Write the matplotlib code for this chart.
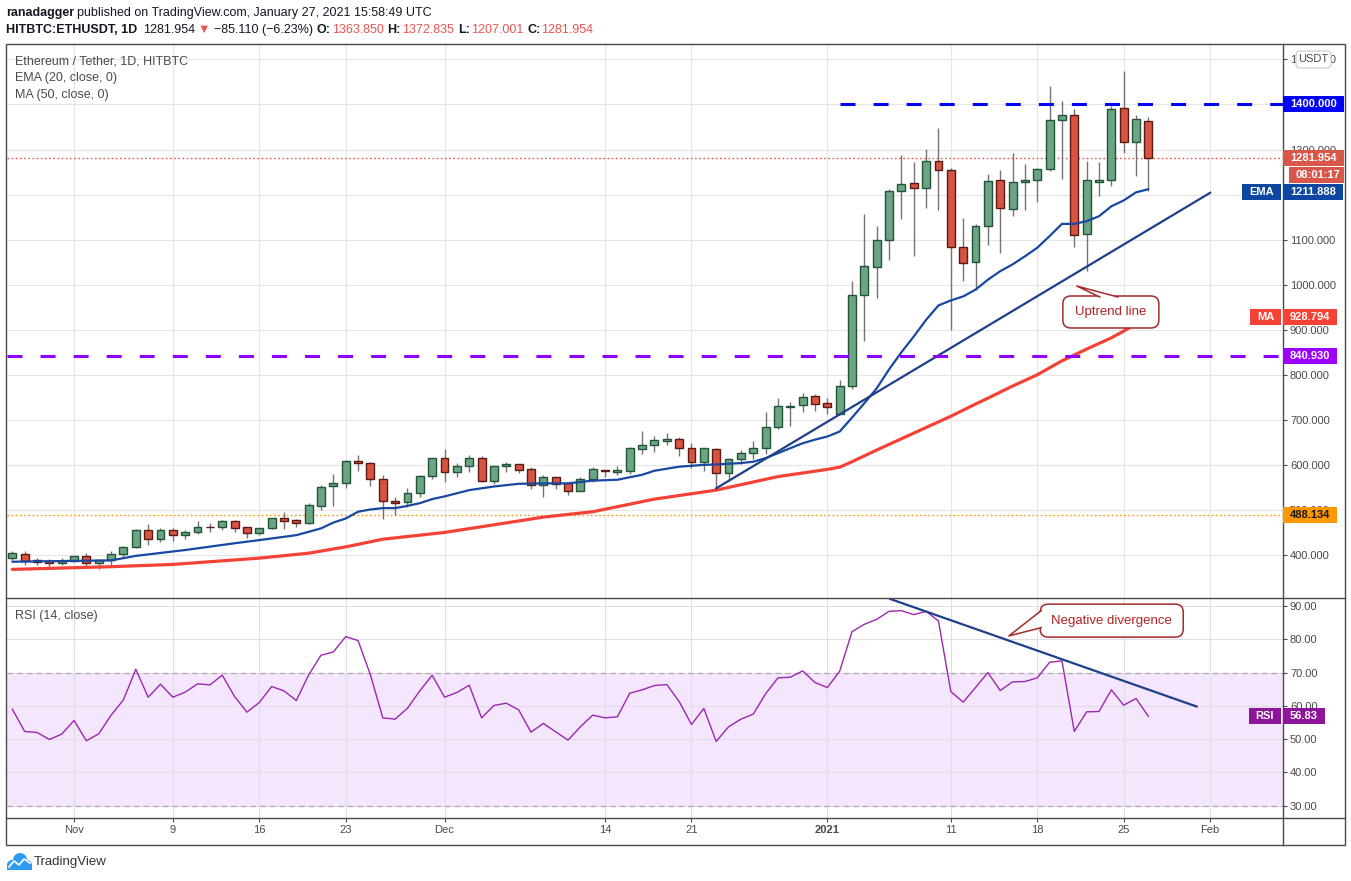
import matplotlib
matplotlib.use("Agg")

import matplotlib.pyplot as plt
import matplotlib.dates as mdates
from matplotlib.patches import FancyBboxPatch, Rectangle, Polygon, Circle
from matplotlib.ticker import FormatStrFormatter, FuncFormatter
import numpy as np
import pandas as pd

plt.rcParams["font.family"] = ["Liberation Sans", "DejaVu Sans"]
plt.rcParams["lines.scale_dashes"] = False

# ── Daily candles, ETH/USDT (HitBTC), 27 Oct 2020 .. 27 Jan 2021 ──────────────
opens = [392.6, 401.5, 388.0, 386.0, 381.5, 386.0, 397.0, 381.5, 388.0, 401.5,
         417.0, 455.6, 434.8, 455.6, 443.7, 450.4, 462.0, 461.5, 474.8, 461.5,
         448.2, 459.3, 481.5, 477.0, 470.4, 508.0, 552.6, 559.2, 608.1, 603.7,
         568.1, 520.0, 517.0, 537.0, 574.8, 614.8, 583.7, 597.0, 614.8, 565.2,
         597.0, 601.5, 590.4, 554.8, 572.6, 559.2, 542.9, 568.1, 589.6, 585.2,
         587.4, 636.3, 643.7, 654.0, 657.0, 637.0, 607.4, 634.8, 583.0, 612.6,
         625.9, 637.0, 683.0, 727.4, 731.9, 752.6, 737.0, 714.0, 775.0, 977.0,
         1039.3, 1099.3, 1208.2, 1226.0, 1214.8, 1274.8, 1254.9, 1083.7, 1050.4, 1130.4,
         1232.6, 1168.2, 1228.2, 1232.6, 1257.0, 1366.0, 1377.0, 1112.6, 1228.2, 1232.6,
         1392.6, 1317.0, 1363.85]
highs = [408.9, 408.9, 392.6, 390.4, 393.4, 398.5, 404.5, 391.0, 408.9, 420.0,
         457.8, 468.9, 460.0, 460.0, 455.6, 475.6, 471.9, 477.8, 477.8, 461.5,
         460.8, 483.0, 495.6, 479.3, 514.8, 555.6, 580.0, 611.0, 622.2, 605.9,
         577.0, 529.6, 548.0, 577.8, 614.8, 635.6, 605.2, 622.2, 620.0, 597.0,
         607.4, 601.5, 594.8, 577.8, 574.1, 559.2, 572.6, 596.3, 589.6, 597.8,
         640.7, 675.5, 664.4, 670.4, 662.2, 648.1, 637.0, 637.0, 614.8, 633.3,
         653.3, 716.3, 748.9, 740.0, 758.5, 757.0, 748.1, 788.9, 1009.0, 1157.8,
         1131.0, 1213.4, 1289.0, 1273.4, 1302.3, 1348.9, 1259.3, 1148.9, 1135.6, 1246.7,
         1255.6, 1293.0, 1268.9, 1259.3, 1440.7, 1406.7, 1388.9, 1274.1, 1271.9, 1396.3,
         1474.0, 1377.8, 1372.835]
lows = [388.2, 378.6, 378.6, 371.9, 378.6, 385.0, 376.3, 369.7, 376.3, 394.0,
        414.9, 422.3, 429.7, 431.9, 436.3, 447.4, 450.4, 456.3, 451.9, 438.5,
        444.5, 457.8, 457.8, 463.0, 468.9, 500.8, 508.9, 549.6, 587.4, 554.0,
        480.7, 489.6, 507.4, 529.6, 569.6, 563.0, 574.0, 585.2, 563.0, 557.8,
        583.7, 583.0, 546.7, 529.6, 546.7, 534.1, 542.9, 563.0, 574.0, 577.8,
        580.0, 625.2, 628.0, 645.2, 620.7, 594.0, 587.4, 548.1, 565.2, 602.2,
        614.0, 623.7, 680.7, 687.4, 716.3, 720.0, 714.0, 712.0, 768.0, 874.1,
        969.7, 1054.1, 1145.2, 1063.0, 1169.7, 1165.2, 898.5, 1007.5, 987.4, 1087.4,
        1069.6, 1151.9, 1165.2, 1183.0, 1251.9, 1234.1, 1083.0, 1031.1, 1196.3, 1218.5,
        1291.9, 1242.3, 1207.001]
closes = [403.7, 387.4, 385.0, 381.5, 386.0, 397.0, 381.5, 388.0, 401.5, 417.1,
          455.6, 434.8, 455.6, 443.7, 450.4, 461.5, 461.0, 475.6, 459.3, 448.2,
          459.3, 481.5, 476.3, 470.4, 510.4, 551.9, 559.3, 608.1, 603.7, 568.1,
          519.2, 516.3, 537.0, 574.8, 614.8, 583.7, 597.0, 614.8, 565.2, 597.0,
          601.5, 589.6, 554.8, 572.6, 557.8, 542.9, 568.1, 590.4, 585.9, 588.1,
          637.0, 643.7, 654.8, 657.0, 637.0, 605.9, 637.0, 583.0, 612.6, 625.9,
          637.0, 683.7, 730.4, 730.4, 750.4, 734.8, 728.1, 774.8, 977.0, 1041.5,
          1099.3, 1208.2, 1223.7, 1214.8, 1274.8, 1254.9, 1083.7, 1048.2, 1130.4, 1230.4,
          1170.4, 1228.2, 1232.6, 1257.8, 1366.0, 1377.0, 1110.4, 1232.6, 1232.6, 1390.4,
          1317.0, 1368.1, 1281.954]

rsi = [59.0, 52.3, 52.0, 49.9, 51.5, 55.6, 49.5, 51.6, 57.2, 61.8,
       71.0, 62.6, 66.5, 62.6, 64.1, 66.6, 66.3, 69.2, 62.8, 58.1,
       61.0, 65.8, 64.5, 61.6, 69.3, 75.2, 76.2, 80.8, 79.6, 69.3,
       56.4, 56.0, 59.3, 64.5, 69.2, 62.6, 64.0, 66.2, 56.4, 60.1,
       60.8, 58.8, 52.1, 54.7, 52.2, 49.7, 53.7, 57.2, 56.4, 56.7,
       63.8, 64.8, 66.1, 66.4, 61.3, 54.4, 59.2, 49.3, 53.7, 56.0,
       57.5, 63.6, 68.4, 68.6, 70.5, 67.0, 65.5, 70.4, 82.3, 84.5,
       86.0, 88.4, 88.6, 87.4, 88.4, 85.5, 64.3, 61.1, 65.5, 70.0,
       64.6, 67.2, 67.3, 68.4, 73.1, 73.5, 52.3, 58.2, 58.3, 64.8,
       60.2, 62.2, 56.83]

# EMA(20) and MA(50) (day offset from 27 Oct, value)
ema_day = [0, 8, 10, 14, 18, 20, 23, 25, 26, 27, 28, 29, 30, 31, 32, 33, 34, 35, 37, 39,
           41, 43, 45, 47, 49, 51, 52, 54, 56, 57, 59, 60, 61, 62, 63, 64, 65, 66, 67, 68,
           69, 70, 71, 72, 73, 74, 75, 76, 77, 78, 79, 80, 81, 82, 83, 84, 85, 86, 87, 88,
           89, 90, 91, 92]
ema_val = [385, 388, 398, 411, 426, 433, 444, 459, 472, 481, 496, 501, 504, 504, 509, 515, 524, 530, 544, 552,
           558, 559, 559, 565, 567, 578, 587, 596, 600, 601, 604, 607, 615, 626, 637, 648, 656, 663, 674, 705,
           737, 770, 812, 850, 885, 922, 954, 965, 974, 989, 1011, 1030, 1045, 1063, 1082, 1108, 1135, 1135, 1141, 1152,
           1174, 1187, 1205, 1212]
ma_day = [0, 8, 13, 20, 24, 27, 30, 35, 39, 43, 47, 52, 57, 62, 66, 67, 68, 69, 70, 72,
          74, 76, 78, 79, 81, 83, 85, 87, 89, 90, 92]
ma_val = [368, 374, 379, 393, 404, 418, 435, 450, 467, 484, 496, 524, 544, 574, 590, 595, 607, 620, 633, 658,
          683, 708, 735, 748, 775, 800, 831, 857, 882, 897, 929]

# hand-drawn lines
uptrend_day = [57, 97]
uptrend_val = [548, 1204]
rsi_trend_day = [71.1, 95.9]
rsi_trend_val = [92.1, 59.8]
resistance = 1400.0
resistance_from = 67
support = 840.930
level_488 = 488.134
last_close = 1281.954
last_ema = 1211.888
last_ma = 928.794
last_rsi = 56.83
countdown = "08:01:17"

tick_dates = ["2020-11-01", "2020-11-09", "2020-11-16", "2020-11-23", "2020-12-01", "2020-12-14",
              "2020-12-21", "2021-01-01", "2021-01-11", "2021-01-18", "2021-01-25", "2021-02-01"]
tick_labels = ["Nov", "9", "16", "23", "Dec", "14", "21", "2021", "11", "18", "25", "Feb"]
price_ticks = [400, 500, 600, 700, 800, 900, 1000, 1100, 1200, 1300, 1400, 1500]
hidden_price_ticks = [1200]          # fully covered by the EMA tag on the original
rsi_ticks = [30, 40, 50, 60, 70, 80, 90]

# ── Colours ───────────────────────────────────────────────────────────────────
UP, UP_EDGE = "#6BA583", "#225437"
DN, DN_EDGE = "#D75442", "#5B1A13"
WICK = "#737375"
EMA_C = "#1848A0"
MA_C = "#F44336"
TREND_C = "#1E3F8A"
RSI_C = "#9C27B0"
GRID = "#E6E6E6"
TXT = "#4A4A4A"
NOTE = "#A52A2A"

W, H = 1351, 881


def px_rect(l, t, r, b):
    return [l / W, 1 - b / H, (r - l) / W, (b - t) / H]


fig = plt.figure(figsize=(W / 100, H / 100), dpi=100)
fig.patch.set_facecolor("white")

ax_p = fig.add_axes(px_rect(7, 44, 1283, 598))
ax_r = fig.add_axes(px_rect(7, 598, 1283, 818), sharex=ax_p)

dates = pd.date_range("2020-10-27", periods=len(closes), freq="D")
x = mdates.date2num(dates)
x0 = x[0]
o, h, l, c = (np.array(a) for a in (opens, highs, lows, closes))

# ── Price pane ────────────────────────────────────────────────────────────────
ax_p.set_xlim(x0 - 0.43, x0 + 102.9)
ax_p.set_ylim(304.5, 1534.3)

up = c >= o
lo = np.minimum(o, c)
bh = np.maximum(np.abs(c - o), 1.0)
ax_p.vlines(x, l, h, color=WICK, lw=1, zorder=2)
ax_p.bar(x[up], bh[up], bottom=lo[up], width=0.64, color=UP, edgecolor=UP_EDGE, lw=1, zorder=3)
ax_p.bar(x[~up], bh[~up], bottom=lo[~up], width=0.64, color=DN, edgecolor=DN_EDGE, lw=1, zorder=3)

ax_p.plot(x0 + np.array(ma_day), ma_val, color=MA_C, lw=2.3, zorder=4, solid_capstyle="round")
ax_p.plot(x0 + np.array(ema_day), ema_val, color=EMA_C, lw=1.6, zorder=4, solid_capstyle="round")
ax_p.plot(x0 + np.array(uptrend_day), uptrend_val, color=TREND_C, lw=1.6, zorder=5)

xmax = ax_p.get_xlim()[1]
ax_p.plot([x0 + resistance_from, xmax], [resistance] * 2, color="#0000FF", lw=2.2,
          dashes=(10.8, 13), solid_capstyle="butt", zorder=5)
ax_p.axhline(support, color="#8F00FF", lw=2.2, dashes=(10.8, 13), zorder=5)
ax_p.axhline(level_488, color="#FF9800", lw=1, dashes=(1.2, 1.8), zorder=1.5)
ax_p.axhline(last_close, color="#EF5350", lw=1, dashes=(1.2, 1.8), zorder=1.5)

ax_p.yaxis.tick_right()
ax_p.set_yticks(price_ticks)
ax_p.yaxis.set_major_formatter(
    FuncFormatter(lambda v, _: "" if round(v) in hidden_price_ticks else f"{v:.3f}"))
ax_p.tick_params(axis="y", right=True, length=3, width=0.8, color=TXT,
                 labelsize=8, labelcolor=TXT, pad=2)
ax_p.tick_params(axis="x", length=0, labelbottom=False)
ax_p.grid(True, color=GRID, lw=0.8)
ax_p.set_axisbelow(True)
for s in ax_p.spines.values():
    s.set_visible(False)

# ── RSI pane ──────────────────────────────────────────────────────────────────
ax_r.set_ylim(26.3, 92.4)
ax_r.axhspan(30, 70, color="#F3E6FD", zorder=0.2, lw=0)
ax_r.axhline(70, color="#B0A8B4", lw=0.9, dashes=(4, 3), zorder=1)
ax_r.axhline(30, color="#B0A8B4", lw=0.9, dashes=(4, 3), zorder=1)
ax_r.plot(x, rsi, color=RSI_C, lw=1.0, zorder=3)
ax_r.plot(x0 + np.array(rsi_trend_day), rsi_trend_val, color=TREND_C, lw=1.6, zorder=4)

ax_r.yaxis.tick_right()
ax_r.set_yticks(rsi_ticks)
ax_r.yaxis.set_major_formatter(FormatStrFormatter("%.2f"))
ax_r.tick_params(axis="y", right=True, length=3, width=0.8, color=TXT,
                 labelsize=8, labelcolor=TXT, pad=2)
ax_r.set_xticks(mdates.date2num(pd.to_datetime(tick_dates)))
ax_r.set_xticklabels(tick_labels)
ax_r.tick_params(axis="x", length=3, width=0.8, color=TXT, labelsize=8, labelcolor=TXT, pad=2)
ax_r.get_xticklabels()[tick_labels.index("2021")].set_fontweight("bold")
ax_r.grid(True, color="#E2DCE6", lw=0.8, zorder=0.5)
ax_r.set_axisbelow(True)
for s in ax_r.spines.values():
    s.set_visible(False)

# ── Overlay in pixel space: frame, header, axis tags, notes ──────────────────
ov = fig.add_axes([0, 0, 1, 1])
ov.set_xlim(0, W)
ov.set_ylim(H, 0)
ov.axis("off")
renderer = fig.canvas.get_renderer()


def to_px(ax, xd, yd):
    dx, dy = ax.transData.transform((xd, yd))
    return dx, H - dy


# frame
ov.add_patch(Rectangle((6, 44), 1339, 801, fill=False, ec=TXT, lw=1.0))
ov.plot([6, 1345], [598, 598], color=TXT, lw=1.0)
ov.plot([6, 1345], [818, 818], color=TXT, lw=1.0)
ov.plot([1283, 1283], [44, 845], color=TXT, lw=1.0)


def seq_text(x, y, pieces, size=9):
    for s, weight, color, gap in pieces:
        t = ov.text(x, y, s, fontsize=size, fontweight=weight, color=color, va="center", ha="left")
        x += t.get_window_extent(renderer=renderer).width + gap


DARK = "#131722"
RED_T = "#EF5350"
seq_text(6, 13, [("ranadagger", "bold", DARK, 3),
                 ("published on TradingView.com, January 27, 2021 15:58:49 UTC", "normal", DARK, 0)])
seq_text(6, 30, [("HITBTC:ETHUSDT, 1D", "bold", DARK, 6),
                 ("1281.954", "normal", DARK, 2),
                 ("▼", "normal", RED_T, 4),
                 ("−85.110 (−6.23%)", "normal", DARK, 4),
                 ("O:", "bold", DARK, 1), ("1363.850", "normal", RED_T, 4),
                 ("H:", "bold", DARK, 1), ("1372.835", "normal", RED_T, 4),
                 ("L:", "bold", DARK, 1), ("1207.001", "normal", RED_T, 4),
                 ("C:", "bold", DARK, 1), ("1281.954", "normal", RED_T, 0)])

for yy, s in [(61, "Ethereum / Tether, 1D, HITBTC"), (78, "EMA (20, close, 0)"), (95, "MA (50, close, 0)")]:
    ov.text(15, yy, s, fontsize=9, color=TXT, va="center", ha="left")
ov.text(15, 616, "RSI (14, close)", fontsize=9, color=TXT, va="center", ha="left")


def axis_tag(yc, s, bg, fg="white", left=1283, pad=7):
    t = ov.text(left + 7, yc, s, fontsize=8, fontweight="bold", color=fg,
                va="center", ha="left", zorder=11)
    right = left + 7 + t.get_window_extent(renderer=renderer).width + pad
    ov.add_patch(Rectangle((left, yc - 8), right - left, 16, fc=bg, ec="none", zorder=10))
    return yc + 8


def name_tag(yc, s, bg):
    t = ov.text(1274, yc, s, fontsize=8, fontweight="bold", color="white",
                va="center", ha="right", zorder=11)
    wdt = t.get_window_extent(renderer=renderer).width + 14
    ov.add_patch(Rectangle((1281 - wdt, yc - 8), wdt, 16, fc=bg, ec="none", zorder=10))


# USDT badge over the top tick label
ov.add_patch(FancyBboxPatch((1296, 51), 35, 17, boxstyle="round,pad=0,rounding_size=4",
                            fc="white", ec="#C8C8C8", lw=0.8, zorder=10))
ov.text(1313.5, 59.5, "USDT", fontsize=8, color=TXT, ha="center", va="center", zorder=11)

axis_tag(to_px(ax_p, x0, resistance)[1], f"{resistance:.3f}", "#0000FF")
y_last = to_px(ax_p, x0, last_close)[1]
bottom_last = axis_tag(y_last, f"{last_close:.3f}", "#D9564A")
cd_top = bottom_last + 1
ov.text(1296, cd_top + 8, countdown, fontsize=8, fontweight="bold", color="white",
        va="center", ha="left", zorder=11)
ov.add_patch(Rectangle((1289, cd_top), 55, 16, fc="#D9564A", ec="none", zorder=10))
y_ema = max(to_px(ax_p, x0, last_ema)[1], cd_top + 16 + 1 + 8)
axis_tag(y_ema, f"{last_ema:.3f}", "#0D47A1")
name_tag(y_ema, "EMA", "#0D47A1")
y_ma = to_px(ax_p, x0, last_ma)[1]
axis_tag(y_ma, f"{last_ma:.3f}", "#F44336")
name_tag(y_ma, "MA", "#F44336")
axis_tag(to_px(ax_p, x0, support)[1], f"{support:.3f}", "#9C00FF")
axis_tag(to_px(ax_p, x0, level_488)[1], f"{level_488:.3f}", "#FF9800", fg="#1A1A1A")
y_rsi = to_px(ax_r, x0, last_rsi)[1]
axis_tag(y_rsi, f"{last_rsi:.2f}", "#8E1599")
name_tag(y_rsi, "RSI", "#8E1599")


def callout(ax, text, at, tip, size, base):
    cx, cy = to_px(ax, x0 + at[0], at[1])
    tx, ty = to_px(ax, x0 + tip[0], tip[1])
    w, hh = size
    ov.add_patch(FancyBboxPatch((cx - w / 2, cy - hh / 2), w, hh,
                                boxstyle="round,pad=0,rounding_size=8",
                                fc="white", ec=NOTE, lw=1.1, zorder=12))
    b1 = (cx + base[0][0], cy + base[0][1])
    b2 = (cx + base[1][0], cy + base[1][1])
    ov.add_patch(Polygon([b1, (tx, ty), b2], closed=True, fc="white", ec="none", zorder=13))
    ov.plot([b1[0], tx, b2[0]], [b1[1], ty, b2[1]], color=NOTE, lw=1.1, zorder=14)
    ov.text(cx, cy, text, fontsize=9.5, color="#B22222", ha="center", va="center", zorder=15)


callout(ax_p, "Uptrend line", (88.96, 939.4), (86.2, 997.0), (96, 32),
        [(-11, -15), (7, -15)])
callout(ax_r, "Negative divergence", (89.03, 85.6), (80.7, 81.0), (143, 33),
        [(-70.5, -10), (-70.5, 7)])

# footer logo
LOGO = "#2D9CF0"
for cxy, r in [((12, 865), 5), ((20, 860), 7), ((27, 865), 5)]:
    ov.add_patch(Circle(cxy, r, fc=LOGO, ec="none"))
ov.add_patch(Rectangle((7, 864), 25, 6, fc=LOGO, ec="none"))
ov.plot([9, 14, 19, 24, 30], [867, 861, 865, 859, 863], color="white", lw=1.2)
ov.text(34, 862, "TradingView", fontsize=9.5, color="#333333", ha="left", va="center")

fig.savefig("out.png", dpi=100)
